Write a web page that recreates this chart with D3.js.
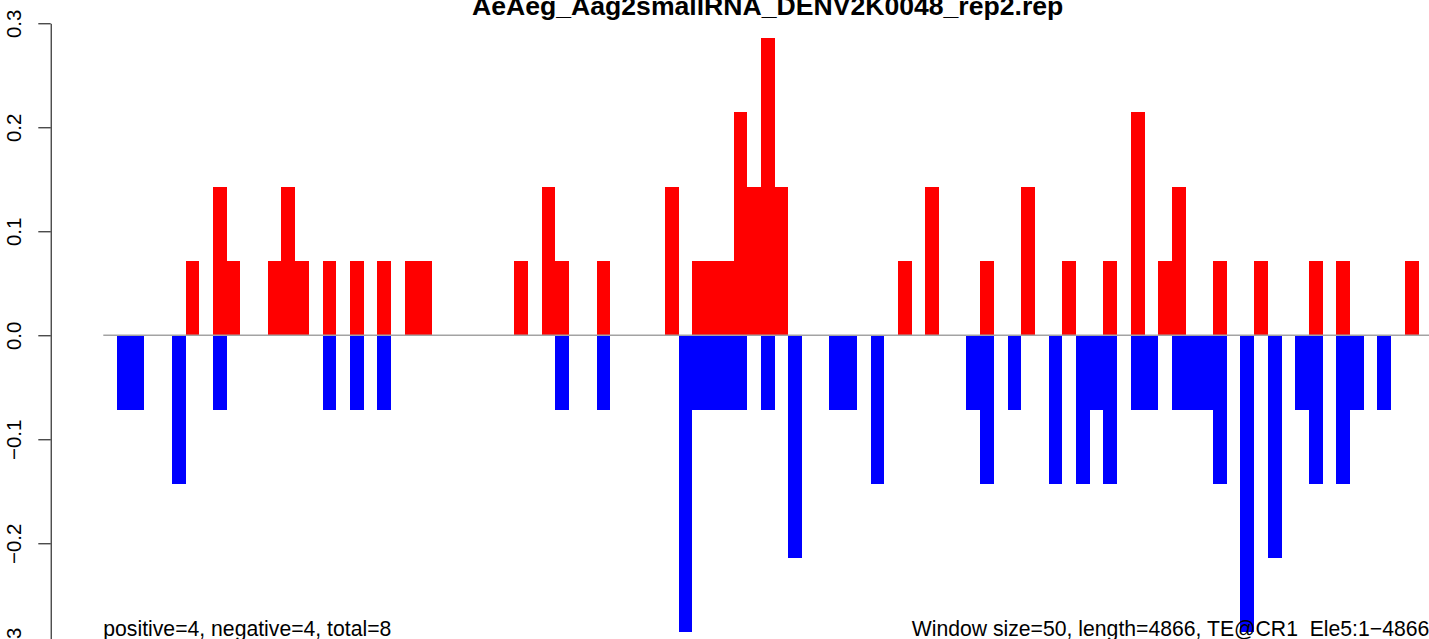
<!DOCTYPE html>
<html>
<head>
<meta charset="utf-8">
<script src="https://cdn.jsdelivr.net/npm/d3@7"></script>
<style>
  html, body { margin: 0; padding: 0; background: #fff; }
  svg { display: block; font-family: "Liberation Sans", Arial, Helvetica, sans-serif; }
</style>
</head>
<body>
<svg id="chart" width="1429" height="639"></svg>
<script>
// ---- data ----
const title = "AeAeg_Aag2smallRNA_DENV2K0048_rep2.rep";
const windowSize = 50;
const seqLength = 4866;

// positive-strand windows (window index) and values
const posWindow = [6, 8, 9, 12, 13, 14, 16, 18, 20, 22, 23, 30, 32, 33, 36, 41, 43, 44, 45, 46, 47, 48, 49, 58, 60, 64, 67, 70, 73, 75, 77, 78, 81, 84, 88, 90, 95];
const posValue  = [0.0714, 0.1429, 0.0714, 0.0714, 0.1429, 0.0714, 0.0714, 0.0714, 0.0714, 0.0714, 0.0714, 0.0714, 0.1429, 0.0714, 0.0714, 0.1429, 0.0714, 0.0714, 0.0714, 0.2143, 0.1429, 0.2857, 0.1429, 0.0714, 0.1429, 0.0714, 0.1429, 0.0714, 0.0714, 0.2143, 0.0714, 0.1429, 0.0714, 0.0714, 0.0714, 0.0714, 0.0714];

// negative-strand windows (window index) and values
const negWindow = [1, 2, 5, 8, 16, 18, 20, 33, 36, 42, 43, 44, 45, 46, 48, 50, 53, 54, 56, 63, 64, 66, 69, 71, 72, 73, 75, 76, 78, 79, 80, 81, 83, 85, 87, 88, 90, 91, 93];
const negValue  = [-0.0714, -0.0714, -0.1429, -0.0714, -0.0714, -0.0714, -0.0714, -0.0714, -0.0714, -0.2857, -0.0714, -0.0714, -0.0714, -0.0714, -0.0714, -0.2143, -0.0714, -0.0714, -0.1429, -0.0714, -0.1429, -0.0714, -0.1429, -0.1429, -0.0714, -0.1429, -0.0714, -0.0714, -0.0714, -0.0714, -0.0714, -0.1429, -0.2857, -0.2143, -0.0714, -0.1429, -0.1429, -0.0714, -0.0714];

const yTicks      = [0.3, 0.2, 0.1, 0.0, -0.1, -0.2, -0.3];
const yTickLabels = ["0.3", "0.2", "0.1", "0.0", "\u22120.1", "\u22120.2", "\u22120.3"];

const leftNote  = "positive=4, negative=4, total=8";
const rightNote = "Window size=50, length=4866, TE@CR1_Ele5:1\u22124866";

// ---- drawing ----
const svg = d3.select("#chart");

const x = d3.scaleLinear().domain([0, seqLength]).range([103.3, 1436.6]);
const y = d3.scaleLinear().domain([-0.3, 0.3]).range([647.3, 23.3]);

const pos = posWindow.map((w, i) => ({ w, v: posValue[i] }));
const neg = negWindow.map((w, i) => ({ w, v: negValue[i] }));

svg.append("g").selectAll("rect").data(pos).join("rect")
  .attr("x", d => x(d.w * windowSize))
  .attr("width", d => x((d.w + 1) * windowSize) - x(d.w * windowSize))
  .attr("y", d => y(d.v))
  .attr("height", d => y(0) - y(d.v))
  .attr("fill", "#ff0000")
  .attr("shape-rendering", "crispEdges");

svg.append("g").selectAll("rect").data(neg).join("rect")
  .attr("x", d => x(d.w * windowSize))
  .attr("width", d => x((d.w + 1) * windowSize) - x(d.w * windowSize))
  .attr("y", y(0))
  .attr("height", d => y(d.v) - y(0))
  .attr("fill", "#0000ff")
  .attr("shape-rendering", "crispEdges");

// zero line
svg.append("line")
  .attr("x1", x(0)).attr("x2", x(seqLength))
  .attr("y1", y(0)).attr("y2", y(0))
  .attr("stroke", "#a3a3a3")
  .attr("stroke-width", 1.6);

// y axis
const yAxis = d3.axisLeft(y)
  .tickValues(yTicks)
  .tickFormat((d, i) => yTickLabels[i])
  .tickSize(12.4)
  .tickSizeOuter(0);

const gy = svg.append("g")
  .attr("transform", "translate(50.7,0)")
  .call(yAxis);
gy.select(".domain").attr("stroke", "#000").attr("stroke-width", 1);
gy.selectAll(".tick line").attr("stroke", "#000").attr("stroke-width", 1);
gy.selectAll(".tick text")
  .attr("transform", "rotate(-90)")
  .attr("x", 0)
  .attr("y", -29.4)
  .attr("dy", 0)
  .attr("text-anchor", "middle")
  .attr("fill", "#000")
  .style("font-size", "20.5px")
  .style("font-family", "\"Liberation Sans\", Arial, Helvetica, sans-serif");

// title
svg.append("text")
  .attr("x", 767.7)
  .attr("y", 14.5)
  .attr("text-anchor", "middle")
  .style("font-size", "26.6px")
  .style("font-weight", "bold")
  .attr("fill", "#000")
  .text(title);

// bottom notes
svg.append("text")
  .attr("x", 103.3)
  .attr("y", 635.5)
  .style("font-size", "21.2px")
  .attr("fill", "#000")
  .text(leftNote);

svg.append("text")
  .attr("x", 911.7)
  .attr("y", 635.5)
  .style("font-size", "21.2px")
  .attr("fill", "#000")
  .text(rightNote);
</script>
</body>
</html>
